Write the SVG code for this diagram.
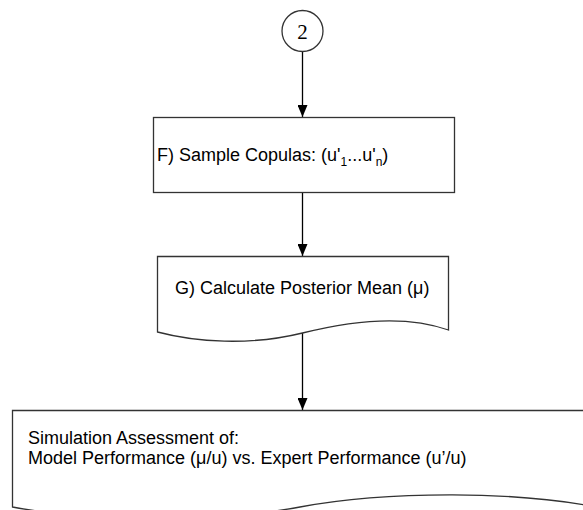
<svg xmlns="http://www.w3.org/2000/svg" width="583" height="510" viewBox="0 0 583 510">
<defs>
<marker id="arr" markerWidth="12" markerHeight="10" refX="12" refY="5" orient="auto" markerUnits="userSpaceOnUse" viewBox="0 0 12 10">
<path d="M0,0 L12,5 L0,10 Z" fill="#000"/>
</marker>
</defs>
<style>
.shape{fill:#fff;stroke:#333;stroke-width:1.3}
.lbl{font-family:"Liberation Sans",Arial,sans-serif;font-size:18px;fill:#000}
.conn{stroke:#000;stroke-width:1.3;fill:none}
</style>
<rect width="583" height="510" fill="#fff"/>
<g id="connectors">
<line class="conn" x1="302.5" y1="51.5" x2="302.5" y2="117" marker-end="url(#arr)"/>
<line class="conn" x1="302.5" y1="193" x2="302.5" y2="256" marker-end="url(#arr)"/>
<line class="conn" x1="302.5" y1="333" x2="302.5" y2="410" marker-end="url(#arr)"/>
</g>
<g id="node-2">
<circle class="shape" cx="302.5" cy="31" r="20.5"/>
<text x="302.5" y="38.5" text-anchor="middle" font-family="'Liberation Serif','Times New Roman',serif" font-size="21">2</text>
</g>
<g id="node-F">
<rect class="shape" x="153.5" y="117.5" width="301" height="75"/>
<text class="lbl" x="157" y="161">F) Sample Copulas: (u'<tspan font-size="12" dy="5">1</tspan><tspan dy="-5">...u'</tspan><tspan font-size="12" dy="5">n</tspan><tspan dy="-5">)</tspan></text>
</g>
<g id="node-G">
<path class="shape" d="M157.5,256.5 H448.5 V330 C415,318 370,316 302.5,333 C250,346 195,342 157.5,332 Z"/>
<text class="lbl" x="175" y="294">G) Calculate Posterior Mean (μ)</text>
</g>
<g id="node-sim">
<path class="shape" d="M12.5,410.5 H620 V512 C520,488 380,492 300,507 C220,522 80,520 12.5,507 Z"/>
<text class="lbl" x="28" y="444">Simulation Assessment of:</text>
<text class="lbl" x="28" y="464">Model Performance (μ/u) vs. Expert Performance (u’/u)</text>
</g>
</svg>
